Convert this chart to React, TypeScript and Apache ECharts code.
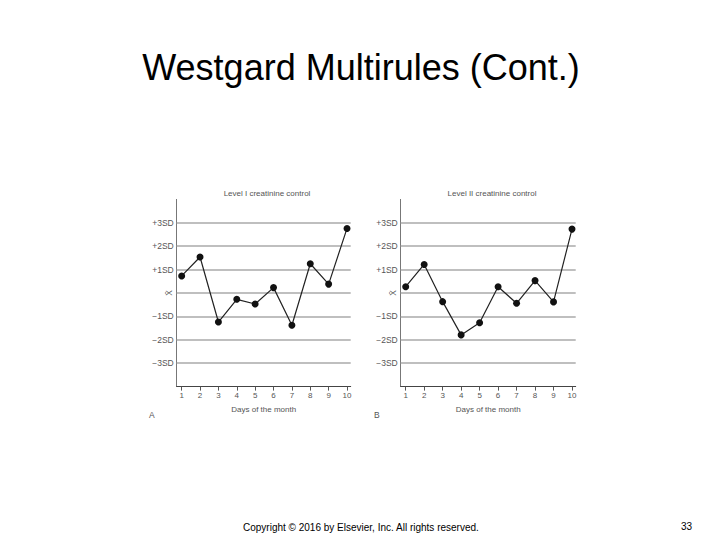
import React, { useEffect, useRef } from "react";
import * as echarts from "echarts";

const days = [1, 2, 3, 4, 5, 6, 7, 8, 9, 10];
const levelI = [0.73, 1.54, -1.24, -0.27, -0.47, 0.23, -1.38, 1.25, 0.38, 2.76];
const levelII = [0.27, 1.22, -0.37, -1.79, -1.27, 0.27, -0.44, 0.53, -0.38, 2.73];
const sdLevels = [3, 2, 1, 0, -1, -2, -3];
const sdLabels = ["+3SD", "+2SD", "+1SD", "X\u0304", "\u22121SD", "\u22122SD", "\u22123SD"];
const meanLabel = "X\u0304";
const panelTitles = ["Level I creatinine control", "Level II creatinine control"];
const panelLetters = ["A", "B"];
const xAxisName = "Days of the month";
const mainTitle = "Westgard Multirules (Cont.)";
const footer = "Copyright \u00a9 2016 by Elsevier, Inc. All rights reserved.";
const pageNumber = "33";

const FONT = "Liberation Sans, Arial, sans-serif";
const LABEL = "#555";

export default function App() {
  const ref = useRef<HTMLDivElement>(null);
  useEffect(() => {
    if (!ref.current) return;
    const chart = echarts.init(ref.current, undefined, { renderer: "svg" });
    const grids = [
      { left: 176.7, top: 199.4, width: 174, height: 187.2 },
      { left: 400.7, top: 199.4, width: 175, height: 187.2 },
    ];
    const series = [levelI, levelII];
    const sdOnly = sdLevels.filter((v) => v !== 0);
    const option: any = {
      animation: false,
      backgroundColor: "#ffffff",
      textStyle: { fontFamily: FONT },
      title: [
        {
          text: mainTitle,
          left: 356,
          top: 44,
          textAlign: "center",
          textStyle: { fontSize: 36, fontWeight: "normal", color: "#000", fontFamily: FONT },
        },
        ...panelTitles.map((t, i) => ({
          text: t,
          left: i === 0 ? 262 : 487,
          top: 184,
          textAlign: "center",
          textStyle: { fontSize: 8, fontWeight: "normal", color: LABEL, fontFamily: FONT },
        })),
        ...panelLetters.map((t, i) => ({
          text: t,
          left: i === 0 ? 144 : 369,
          top: 405,
          textStyle: { fontSize: 8.5, fontWeight: "normal", color: LABEL, fontFamily: FONT },
        })),
        {
          text: footer,
          left: 238,
          top: 517,
          textStyle: { fontSize: 10, fontWeight: "normal", color: "#000", fontFamily: FONT },
        },
        {
          text: pageNumber,
          left: 676,
          top: 516,
          textStyle: { fontSize: 10, fontWeight: "normal", color: "#000", fontFamily: FONT },
        },
      ],
      grid: grids.map((g) => ({ ...g, containLabel: false })),
      xAxis: grids.map((_, i) => ({
        type: "value",
        gridIndex: i,
        min: 0.73,
        max: 10.2,
        name: xAxisName,
        nameLocation: "middle",
        nameGap: 19,
        nameTextStyle: { fontSize: 8, color: LABEL, fontFamily: FONT },
        axisLine: { show: true, onZero: false, lineStyle: { color: "#444", width: 1 } },
        axisTick: { show: true, length: 4, customValues: days, lineStyle: { color: "#555" } },
        axisLabel: { customValues: days, fontSize: 8, color: LABEL, margin: 5, fontFamily: FONT },
        splitLine: { show: false },
      })),
      yAxis: [
        ...grids.map((_, i) => ({
          type: "value",
          gridIndex: i,
          min: -4,
          max: 4,
          axisLine: { show: true, onZero: false, lineStyle: { color: "#777", width: 1 } },
          axisTick: { show: false },
          axisLabel: {
            customValues: sdOnly,
            fontSize: 8.5,
            color: LABEL,
            margin: 3,
            fontFamily: FONT,
            formatter: (v: number) => {
              const idx = sdLevels.indexOf(Math.round(v));
              return idx >= 0 ? sdLabels[idx] : "";
            },
          },
          splitLine: { show: false },
        })),
        ...grids.map((_, i) => ({
          type: "value",
          gridIndex: i,
          position: "left",
          min: -4,
          max: 4,
          axisLine: { show: false, onZero: false },
          axisTick: { show: false },
          axisLabel: {
            customValues: [0],
            fontSize: 8.5,
            color: LABEL,
            margin: 3,
            rotate: 90,
            fontFamily: FONT,
            formatter: () => meanLabel,
          },
          splitLine: { show: false },
        })),
      ],
      series: series.map((d, i) => ({
        type: "line",
        xAxisIndex: i,
        yAxisIndex: i,
        data: d.map((v, j) => [days[j], v]),
        symbol: "circle",
        symbolSize: 7,
        itemStyle: { color: "#111" },
        lineStyle: { color: "#222", width: 1.2 },
        markLine: {
          silent: true,
          symbol: "none",
          label: { show: false },
          lineStyle: { color: "#aaa", width: 1.5, type: "solid" },
          data: sdLevels.map((v) => ({ yAxis: v })),
          z: 1,
        },
        z: 5,
      })),
    };
    chart.setOption(option);
    return () => chart.dispose();
  }, []);
  return (
    <div
      ref={ref}
      style={{ position: "fixed", left: 0, top: 0, width: 720, height: 540 }}
    />
  );
}
